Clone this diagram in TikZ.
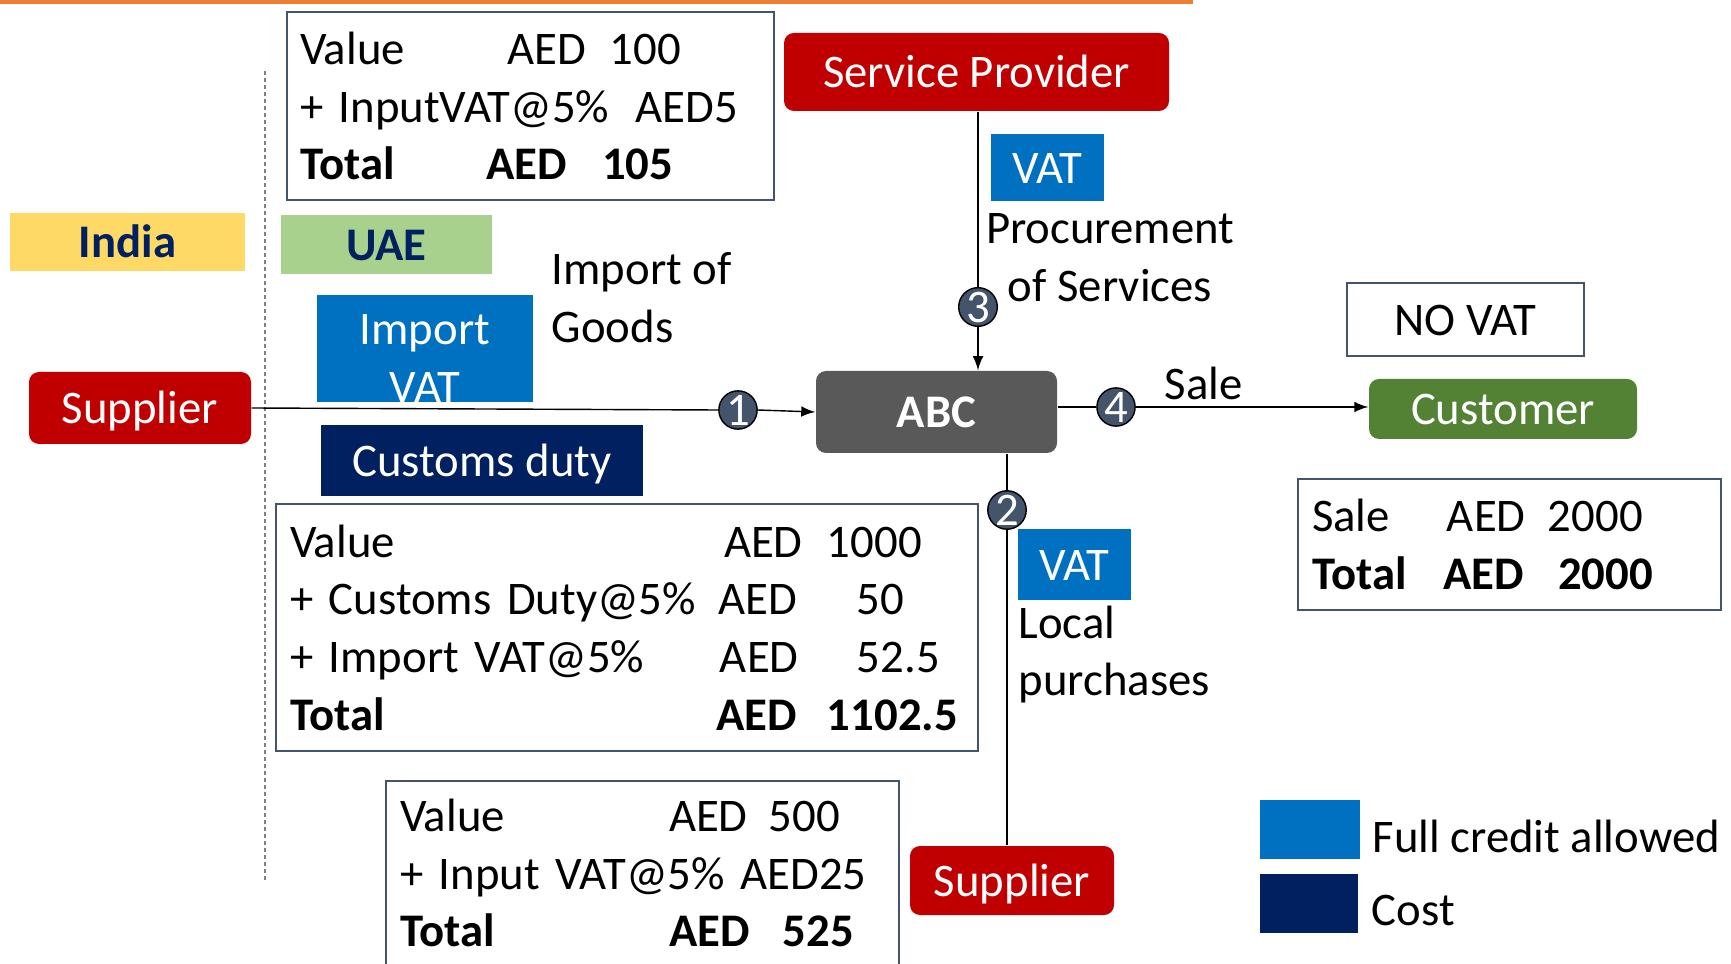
\documentclass[tikz,border=0pt]{standalone}
\usepackage{fontspec}
\setmainfont{Carlito}
\definecolor{vatred}{HTML}{C00000}
\definecolor{slate}{HTML}{44546A}
\definecolor{vatblue}{HTML}{0070C0}
\definecolor{navy}{HTML}{002060}
\definecolor{indiayellow}{HTML}{FFD966}
\definecolor{uaegreen}{HTML}{A9D18E}
\definecolor{custgreen}{HTML}{548235}
\definecolor{abcgray}{HTML}{595959}
\definecolor{orangebar}{HTML}{ED7D31}

\begin{document}
\begin{tikzpicture}[x=0.1mm, y=-0.1mm,
        every node/.style={font=\fontsize{13.3}{16.4}\selectfont, inner sep=0pt},
        oneline/.style={text height=12.4pt, text depth=3.4pt},
        party/.style={oneline, fill=vatred, text=white, rounded corners=1mm},
        tag/.style={oneline, text=white},
        calc/.style={draw=slate, line width=0.25mm, align=left},
        num/.style={circle, draw=black, fill=slate, text=white, minimum size=3.6mm},
        link/.style={thin}]
        \clip (0,0) rectangle (1731,964);
        \fill[white] (0,0) rectangle (1731,964);
        \draw[orangebar, line width=0.4mm] (0,2) -- (1193,2);
        \draw[gray, thin, dash pattern=on 0.4mm off 0.3mm] (265,71) -- (265,880);

        \node[calc, text width=46.1mm, inner xsep=1.3mm, minimum height=18.8mm] (calcsp) at (530.5,106) {%
            \makebox[20.8mm][l]{Value}\makebox[10.2mm][l]{AED}100\\
            \makebox[33.6mm][l]{+ InputVAT@5\%}AED5\\
            \textbf{\makebox[18.6mm][l]{Total}\makebox[11.6mm][l]{AED}105}};
        \node[oneline, fill=indiayellow, text=navy, minimum width=23.5mm, minimum height=5.8mm] (india) at (127.5,242) {\textbf{India}};
        \node[oneline, fill=uaegreen, text=navy, minimum width=21.1mm, minimum height=5.9mm] (uae) at (386.5,244.5) {\textbf{UAE}};
        \node[fill=vatblue, text=white, align=center, minimum width=21.6mm, minimum height=10.7mm] (ivat) at (425,348.5) {\rule{0pt}{5mm}Import\\VAT};
        \node[align=left, anchor=north west] (goods) at (551,252) {Import of\\Goods};
        \node[party, minimum width=22.2mm, minimum height=7.2mm] (sup1) at (140,408) {Supplier};
        \node[tag, fill=navy, minimum width=32.2mm, minimum height=7.1mm] (duty) at (482,460.5) {Customs duty};
        \node[calc, text width=67.4mm, inner xsep=1.4mm, minimum height=24.7mm] (calcimp) at (627,627.5) {%
            \makebox[43.4mm][l]{Value}\makebox[10.3mm][l]{AED}1000\\
            \makebox[42.9mm][l]{+ Customs Duty@5\%}\makebox[13.8mm][l]{AED}50\\
            \makebox[43.0mm][l]{+ Import VAT@5\%}\makebox[13.7mm][l]{AED}52.5\\
            \textbf{\makebox[42.6mm][l]{Total}\makebox[11.1mm][l]{AED}1102.5}};
        \node[calc, text width=48.5mm, inner xsep=1.4mm, minimum height=18.4mm] (calcloc) at (642.5,873) {%
            \makebox[26.9mm][l]{Value}\makebox[10.0mm][l]{AED}500\\
            + Input VAT@5\% AED25\\
            \textbf{\makebox[26.9mm][l]{Total}\makebox[11.4mm][l]{AED}525}};

        \node[party, minimum width=38.5mm, minimum height=7.8mm] (sp) at (976.5,72) {Service Provider};
        \node[tag, fill=vatblue, minimum width=11.3mm, minimum height=6.7mm] (vatsp) at (1047.5,167.5) {VAT};
        \node[align=center, anchor=north] (proc) at (1110,213) {Procurement\\of Services};
        \node[oneline, fill=abcgray, text=white, rounded corners=1mm, minimum width=24.1mm, minimum height=8.2mm] (abc) at (936.5,412) {\textbf{ABC}};
        \node[num] (c1) at (738,410) {1};
        \node[num] (c2) at (1007,510) {2};
        \node[num] (c3) at (978,307) {3};
        \node[num] (c4) at (1116,407) {4};
        \node[anchor=base west] (sale) at (1164,400) {Sale};
        \node[oneline, draw=slate, line width=0.25mm, minimum width=23.7mm, minimum height=7.3mm] (novat) at (1465.5,319.5) {NO VAT};
        \node[oneline, fill=custgreen, text=white, rounded corners=1mm, minimum width=26.8mm, minimum height=6.0mm] (cust) at (1503,409) {Customer};
        \node[calc, text width=39.5mm, inner xsep=1.4mm, minimum height=13.1mm] (calcsale) at (1509.5,544.5) {%
            \makebox[13.5mm][l]{Sale}\makebox[10.1mm][l]{AED}2000\\
            \textbf{\makebox[13.1mm][l]{Total}\makebox[11.5mm][l]{AED}2000}};
        \node[tag, fill=vatblue, minimum width=11.3mm, minimum height=7.1mm] (vatloc) at (1074.5,564.5) {VAT};
        \node[align=left, anchor=north west] (local) at (1018,605) {Local\\purchases};
        \node[party, minimum width=20.4mm, minimum height=6.9mm] (sup2) at (1012,880.5) {Supplier};

        \node[fill=vatblue, minimum width=10.0mm, minimum height=5.9mm] (keycredit) at (1310,829.5) {};
        \node[anchor=base west] (credit) at (1372,852) {Full credit allowed};
        \node[fill=navy, minimum width=9.8mm, minimum height=5.9mm] (keycost) at (1309,903.5) {};
        \node[anchor=base west] (cost) at (1371,925) {Cost};

        \draw[link] (sup1.east) -- (c1.west);
        \draw[link, -latex] (c1.east) -- (abc.west);
        \draw[link] (sp.south -| c3) -- (c3.north);
        \draw[link, -latex] (c3.south) -- (c3 |- abc.north);
        \draw[link] (abc.south -| c2) -- (c2.north);
        \draw[link] (c2.south) -- (c2 |- sup2.north);
        \draw[link] (abc.east |- c4) -- (c4.west);
        \draw[link, -latex] (c4.east) -- (c4 -| cust.west);
\end{tikzpicture}
\end{document}
